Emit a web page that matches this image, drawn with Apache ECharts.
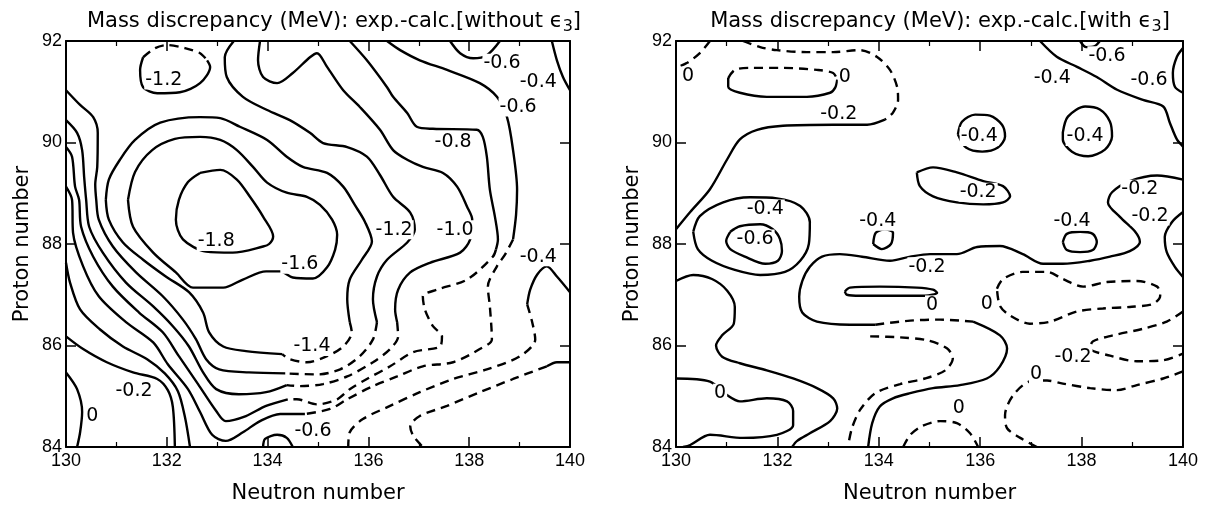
<!DOCTYPE html>
<html><head><meta charset="utf-8">
<script src="https://cdn.jsdelivr.net/npm/echarts@6.0.0/dist/echarts.min.js"></script>
<style>html,body{margin:0;padding:0;background:#fff}#c{width:1209px;height:509px}</style>
</head><body><div id="c"></div>
<script>
// ---------- axis ranges / ticks ----------
const xRange = [130, 140];
const yRange = [84, 92];
const tickStep = 2;

// ---------- LEFT PANEL (without eps3): contour paths [N, Z] ----------
const L_m18 = [[132.66,89.40],[133.06,89.46],[133.39,89.27],[133.65,88.93],[133.91,88.54],[134.11,88.15],[134.03,88.00],[133.91,87.95],[133.31,87.83],[132.78,87.85],[132.32,88.09],[132.18,88.48],[132.24,88.87],[132.42,89.22],[132.66,89.40]];
const L_m16 = [[131.23,88.87],[131.37,89.42],[131.71,89.85],[132.16,90.07],[132.66,90.11],[133.06,90.05],[133.39,89.85],[133.71,89.52],[133.99,89.21],[134.38,89.01],[134.78,88.93],[135.04,88.77],[135.28,88.48],[135.38,88.18],[135.34,87.89],[135.18,87.54],[134.90,87.32],[134.50,87.34],[134.25,87.46],[133.97,87.46],[133.51,87.30],[133.12,87.14],[132.52,87.14],[132.18,87.44],[131.73,87.83],[131.33,88.34],[131.23,88.87]];
const L_m14_s1 = [[130.79,88.87],[130.85,89.27],[131.07,89.66],[131.37,90.05],[131.87,90.39],[132.66,90.50],[133.06,90.48],[133.45,90.31],[133.99,90.05],[134.38,89.72],[134.70,89.52],[135.18,89.40],[135.50,89.13],[135.73,88.77],[135.93,88.44],[136.07,88.05],[135.87,87.69],[135.63,87.30],[135.58,86.91],[135.63,86.46]];
const L_m14_d = [[135.63,86.46],[135.67,86.26],[135.50,85.98],[135.18,85.79],[134.78,85.67],[134.44,85.73],[134.29,85.83]];
const L_m14_s2 = [[134.29,85.83],[133.57,85.89],[133.12,85.98],[132.84,86.26],[132.72,86.65],[132.44,87.05],[131.98,87.36],[131.53,87.69],[131.13,88.03],[130.85,88.48],[130.79,88.87]];
const L_m12_s1 = [[133.33,92.0],[133.15,91.68],[133.19,91.29],[133.51,90.90],[133.99,90.64],[134.44,90.44],[134.84,90.19],[135.10,89.99],[135.58,89.91],[135.97,89.72],[136.23,89.36],[136.49,88.93],[136.83,88.62],[136.92,88.28],[136.77,88.03],[136.37,87.69],[136.17,87.36],[136.09,86.91],[136.17,86.46]];
const L_m12_d = [[136.17,86.46],[136.09,86.12],[135.83,85.79],[135.44,85.53],[134.98,85.43],[134.35,85.45]];
const L_m12_s2 = [[134.35,85.45],[133.63,85.47],[133.04,85.53],[132.78,85.73],[132.58,86.12],[132.32,86.51],[131.92,86.97],[131.39,87.44],[130.93,87.95],[130.65,88.48],[130.60,88.87],[130.58,89.17],[130.62,89.52],[130.63,90.19],[130.54,90.50],[130.28,90.74],[130.0,91.03]];
const L_m10_s1 = [[133.85,92.0],[133.81,91.62],[133.91,91.29],[134.19,91.17],[134.50,91.37],[134.84,91.68],[134.98,91.76],[135.18,91.49],[135.50,91.03],[135.83,90.70],[136.23,90.25],[136.49,89.85],[136.77,89.66],[137.08,89.52],[137.48,89.40],[137.76,89.13],[137.96,88.73],[138.06,88.48],[138.02,88.09],[137.82,87.83],[137.22,87.63],[136.83,87.44],[136.59,87.10],[136.53,86.71],[136.57,86.46]];
const L_m10_d = [[136.57,86.46],[136.59,86.18],[136.43,85.93],[136.09,85.67],[135.58,85.39],[135.10,85.24],[134.64,85.20],[134.38,85.22]];
const L_m10_s2 = [[134.38,85.22],[133.97,85.08],[133.43,85.04],[132.98,85.14],[132.72,85.47],[132.44,85.98],[132.12,86.38],[131.73,86.77],[131.19,87.24],[130.73,87.83],[130.46,88.34],[130.40,88.87],[130.36,89.32],[130.32,89.85],[130.22,90.19],[130.0,90.44]];
const L_m08_s1 = [[135.63,92.0],[135.97,91.62],[136.37,91.09],[136.49,90.90],[136.77,90.58],[136.96,90.31],[137.28,90.27],[138.15,90.25],[138.27,90.11],[138.35,89.72],[138.41,89.07],[138.51,88.54],[138.57,88.09],[138.53,87.89]];
const L_m08_d = [[138.53,87.89],[138.47,87.75],[137.96,87.30],[137.36,87.10],[137.08,86.97],[137.12,86.71],[137.28,86.38],[137.46,86.18],[137.42,85.98],[136.89,85.87],[136.43,85.59],[135.97,85.34],[135.63,85.14],[135.38,84.94],[134.98,84.84],[134.58,84.94],[134.40,84.94]];
const L_m08_s2 = [[134.40,84.94],[133.97,84.81],[133.57,84.61],[133.17,84.51],[132.98,84.71],[132.62,85.24],[132.24,85.79],[131.92,86.26],[131.45,86.65],[130.93,87.16],[130.54,87.75],[130.30,88.34],[130.26,88.87],[130.18,89.13],[130.12,89.72],[130.0,89.91]];
const L_m06_s1 = [[136.37,92.0],[136.63,91.82],[137.02,91.62],[137.56,91.43],[138.21,91.17],[138.55,90.90],[138.75,90.50],[138.87,89.85],[138.95,89.07],[138.93,88.58],[138.87,88.09]];
const L_m06_d = [[138.87,88.09],[138.71,87.79],[138.55,87.56],[138.37,87.16],[138.41,86.77],[138.45,86.12],[138.21,85.93],[137.68,85.67],[137.08,85.59],[136.57,85.39],[136.09,85.20],[135.58,84.94],[135.24,84.75],[134.74,84.65]];
const L_m06_s2 = [[134.74,84.65],[134.25,84.65],[133.85,84.51],[133.51,84.29],[133.17,84.12],[132.90,84.24],[132.66,84.69],[132.42,85.14],[132.02,85.63],[131.73,86.06],[131.19,86.46],[130.65,86.97],[130.34,87.56],[130.14,88.22],[130.12,88.87],[130.0,89.13]];
const L_m04_left = [[130.0,87.63],[130.08,87.24],[130.28,86.71],[130.67,86.32],[131.13,85.98],[131.61,85.73],[131.96,85.45],[132.22,85.10],[132.36,84.59],[132.46,84.0]];
const L_m02_left = [[130.0,86.18],[130.34,85.93],[130.81,85.67],[131.33,85.47],[131.81,85.34],[132.02,85.12],[132.12,84.79],[132.16,84.0]];
const L_0_left = [[130.0,85.47],[130.22,85.14],[130.32,84.69],[130.28,84.29],[130.22,84.0]];
const L_bump = [[133.91,84.0],[133.95,84.16],[134.19,84.24],[134.38,84.18],[134.50,84.0]];
const L_m04_right_s = [[140.0,87.05],[139.74,87.36],[139.54,87.56],[139.35,87.40],[139.21,87.10],[139.15,86.81]];
const L_m04_right_d = [[139.15,86.81],[139.25,86.46],[139.31,86.12],[139.01,85.79],[138.35,85.53],[137.68,85.34],[137.02,85.08],[136.43,84.81],[135.89,84.55],[135.63,84.29],[135.60,84.0]];
const L_m02_right_s = [[140.0,85.67],[139.74,85.67],[139.54,85.59]];
const L_m02_right_d = [[139.54,85.59],[138.87,85.34],[138.21,85.08],[137.56,84.81],[137.02,84.61],[136.83,84.41],[136.89,84.22],[137.08,84.0]];
const L_topU = [[137.62,92.0],[137.82,91.76],[138.08,91.66],[138.35,91.72],[138.61,92.0]];
const L_topRight = [[139.64,92.0],[139.74,91.62],[139.86,91.29],[140.0,91.03]];
const L_m12loop_d = [[131.53,91.68],[131.77,91.86],[132.00,91.92],[132.36,91.86],[132.66,91.76],[132.80,91.62]];
const L_m12loop_s = [[132.80,91.62],[132.86,91.49],[132.66,91.17],[132.26,90.99],[131.81,90.97],[131.53,91.09],[131.47,91.43],[131.53,91.68]];

const leftLabels = [[131.94,91.23,'-1.2'],[138.65,91.56,'-0.6'],[139.37,91.19,'-0.4'],[138.97,90.70,'-0.6'],[137.68,90.01,'-0.8'],[136.51,88.28,'-1.2'],[137.72,88.28,'-1.0'],[132.98,88.05,'-1.8'],[134.64,87.60,'-1.6'],[139.37,87.75,'-0.4'],[134.88,85.98,'-1.4'],[131.35,85.10,'-0.2'],[130.52,84.61,'0'],[134.90,84.31,'-0.6']];

// ---------- RIGHT PANEL (with eps3): contour paths [N, Z] ----------
const R_0_corner = [[130.67,92.0],[130.47,91.76],[130.22,91.57],[130.0,91.47]];
const R_m02_top_d = [[131.32,92.0],[131.66,91.88],[131.99,91.82],[132.58,91.78],[133.10,91.78],[133.63,91.82],[133.96,91.69],[134.22,91.43],[134.36,91.10],[134.38,90.84],[134.28,90.59],[134.12,90.45]];
const R_m02_top_s = [[134.12,90.45],[133.77,90.35],[133.10,90.35],[132.11,90.33],[131.60,90.25],[131.26,90.06],[131.01,89.67],[130.67,89.08],[130.28,88.63],[130.0,88.29]];
const R_0_loop_d = [[131.03,91.27],[131.16,91.43],[131.46,91.47],[132.11,91.47],[132.78,91.43],[133.10,91.37],[133.18,91.24]];
const R_0_loop_s = [[133.18,91.24],[133.14,91.08],[133.04,90.98],[132.58,90.90],[131.79,90.90],[131.26,90.98],[131.03,91.10],[131.03,91.27]];
const R_m04_top = [[137.18,92.0],[137.51,91.69],[137.91,91.49],[138.30,91.29],[138.70,91.04],[139.21,90.84],[139.61,90.71],[139.74,90.39],[139.88,90.06],[140.0,89.92]];
const R_m06_bump = [[137.97,92.0],[138.09,91.88],[138.26,91.90],[138.36,92.0]];
const R_m06_edge = [[140.0,91.86],[139.88,91.69],[139.80,91.37],[139.84,91.10],[140.0,90.98]];
const R_m04_loopA = [[135.56,90.16],[135.64,90.41],[135.90,90.55],[136.19,90.53],[136.43,90.35],[136.49,90.12],[136.35,89.90],[136.04,89.82],[135.72,89.90],[135.56,90.16]];
const R_m04_loopB = [[137.63,90.20],[137.73,90.51],[138.07,90.71],[138.36,90.65],[138.56,90.41],[138.60,90.12],[138.46,89.86],[138.13,89.73],[137.81,89.82],[137.63,90.06],[137.63,90.20]];
const R_m02_loop = [[134.75,89.41],[135.07,89.51],[135.54,89.41],[136.06,89.24],[136.45,89.14],[136.59,88.94],[136.45,88.82],[136.06,88.78],[135.54,88.82],[135.07,88.94],[134.81,89.14],[134.75,89.41]];
const R_m02_long_s1 = [[140.0,89.27],[139.49,89.35],[138.95,89.24],[138.60,89.02],[138.52,88.82],[138.76,88.53],[139.05,88.25],[139.15,88.04],[138.95,87.86],[138.56,87.75],[138.17,87.67],[137.63,87.61],[137.24,87.61],[136.84,87.80],[136.39,87.96],[135.94,87.94],[135.54,87.80],[135.01,87.80],[134.62,87.75],[134.22,87.67],[133.67,87.75],[133.23,87.80],[132.88,87.75],[132.64,87.55],[132.49,87.27],[132.43,86.96],[132.49,86.65],[132.78,86.47],[133.43,86.41],[133.93,86.41]];
const R_m02_long_d = [[133.93,86.41],[134.62,86.49],[135.21,86.51],[135.86,86.47]];
const R_m02_long_s2 = [[135.86,86.47],[136.39,86.20],[136.53,85.94],[136.39,85.59],[136.13,85.35],[135.60,85.22],[135.07,85.16],[134.62,85.06],[134.28,84.96],[134.02,84.80],[133.87,84.47],[133.79,84.0]];
const R_m02_edge = [[140.0,88.63],[139.78,88.43],[139.64,88.14],[139.68,87.84],[139.84,87.55],[140.0,87.35]];
const R_m04_L = [[130.34,88.24],[130.47,88.55],[130.93,88.82],[131.46,88.92],[131.99,88.90],[132.45,88.75],[132.64,88.43],[132.62,88.00],[132.45,87.67],[132.15,87.45],[131.66,87.39],[131.16,87.49],[130.71,87.67],[130.43,87.90],[130.34,88.24]];
const R_m06_loop = [[131.07,88.24],[131.26,88.35],[131.66,88.39],[131.91,88.29],[132.05,88.10],[132.09,87.86],[132.01,87.67],[131.76,87.61],[131.36,87.75],[131.07,87.90],[130.99,88.06],[131.07,88.24]];
const R_m04_small = [[133.89,88.00],[133.94,88.22],[134.12,88.29],[134.28,88.22],[134.24,88.00],[134.06,87.90],[133.89,88.00]];
const R_m04_K = [[137.63,88.04],[137.71,88.20],[137.97,88.24],[138.22,88.20],[138.30,88.04],[138.22,87.88],[137.97,87.84],[137.71,87.88],[137.63,88.04]];
const R_0_bar = [[133.33,87.06],[133.43,87.14],[134.02,87.16],[134.75,87.14],[135.07,87.10],[135.15,87.04],[134.91,86.98],[134.22,86.98],[133.63,86.98],[133.37,87.00],[133.33,87.06]];
const R_0_dloop = [[136.33,87.12],[136.45,87.31],[136.84,87.45],[137.32,87.45],[137.63,87.31],[138.03,87.16],[138.50,87.25],[139.09,87.27],[139.49,87.16],[139.55,86.98],[139.41,86.82],[138.95,86.76],[138.42,86.73],[137.91,86.67],[137.38,86.47],[136.98,86.43],[136.59,86.59],[136.39,86.78],[136.33,87.12]];
const R_0_inner_d = [[133.83,86.18],[134.42,86.16],[134.97,86.10],[135.35,85.94],[135.46,85.75],[135.31,85.51],[134.91,85.35],[134.42,85.24],[133.93,85.06],[133.63,84.73],[133.47,84.37],[133.39,84.0]];
const R_m02_v_d = [[140.0,86.67],[139.68,86.47],[139.21,86.33],[138.62,86.20],[138.22,86.08],[138.17,85.94],[138.56,85.80],[139.09,85.69],[139.61,85.71],[140.0,85.84]];
const R_0_br_d = [[140.0,85.49],[139.61,85.35],[139.09,85.22],[138.70,85.12],[138.17,85.16],[137.63,85.25],[137.32,85.31],[136.98,85.29],[136.65,85.02],[136.49,84.63],[136.53,84.37],[136.79,84.18],[137.12,84.0]];
const R_0_semi_d = [[134.48,84.0],[134.62,84.24],[134.85,84.41],[135.21,84.51],[135.54,84.47],[135.80,84.27],[135.96,84.0]];
const R_m02_P = [[130.0,87.27],[130.34,87.39],[130.71,87.31],[131.01,87.08],[131.16,86.76],[131.14,86.43],[130.91,86.20],[130.79,86.00],[130.91,85.78],[131.26,85.65],[131.79,85.51],[132.31,85.35],[132.78,85.16],[133.10,84.96],[133.18,84.76],[133.04,84.51],[132.64,84.27],[132.39,84.12],[132.29,84.0]];
const R_0_Q = [[130.0,85.35],[130.67,85.29],[131.01,85.02],[131.26,84.90],[131.79,84.96],[132.19,84.90],[132.31,84.71],[132.31,84.43],[131.99,84.24],[131.32,84.18],[130.67,84.24],[130.28,84.04],[130.14,84.0]];

const rightLabels = [[130.24,91.31,'0'],[133.33,91.29,'0'],[133.21,90.57,'-0.2'],[137.42,91.27,'-0.4'],[138.50,91.71,'-0.6'],[139.33,91.24,'-0.6'],[135.98,90.12,'-0.4'],[138.07,90.12,'-0.4'],[135.96,89.02,'-0.2'],[139.15,89.08,'-0.2'],[139.35,88.55,'-0.2'],[131.76,88.69,'-0.4'],[131.56,88.10,'-0.6'],[137.81,88.45,'-0.4'],[133.98,88.45,'-0.4'],[134.95,87.55,'-0.2'],[135.05,86.80,'0'],[136.13,86.82,'0'],[137.83,85.78,'-0.2'],[137.10,85.43,'0'],[135.58,84.76,'0'],[130.87,85.06,'0']];

// ---------- which paths are drawn solid / dashed ----------
const leftSolid = [L_m18, L_m16, L_m14_s1, L_m14_s2, L_m12_s1, L_m12_s2, L_m10_s1, L_m10_s2, L_m08_s1, L_m08_s2, L_m06_s1, L_m06_s2, L_m04_left, L_m02_left, L_0_left, L_bump, L_m04_right_s, L_m02_right_s, L_topU, L_topRight, L_m12loop_s];
const leftDashed = [L_m14_d, L_m12_d, L_m10_d, L_m08_d, L_m06_d, L_m04_right_d, L_m02_right_d, L_m12loop_d];
const rightSolid = [R_m02_top_s, R_0_loop_s, R_m04_top, R_m06_bump, R_m06_edge, R_m04_loopA, R_m04_loopB, R_m02_loop, R_m02_long_s1, R_m02_long_s2, R_m02_edge, R_m04_L, R_m06_loop, R_m04_small, R_m04_K, R_0_bar, R_m02_P, R_0_Q];
const rightDashed = [R_0_corner, R_m02_top_d, R_0_loop_d, R_m02_long_d, R_0_dloop, R_0_inner_d, R_m02_v_d, R_0_br_d, R_0_semi_d];

// ---------- build chart ----------
const TXT = 'DejaVu Sans';
const NUM = 'Liberation Sans';

function xAx(gi, pos, main) {
  return {
    type: 'value', gridIndex: gi, position: pos, min: xRange[0], max: xRange[1], interval: tickStep,
    axisLine: { show: true, onZero: false, lineStyle: { color: '#000', width: 2 } },
    axisTick: { show: true, inside: true, length: 10, lineStyle: { color: '#000', width: 1.5 } },
    minorTick: { show: true, splitNumber: 2, length: 5, lineStyle: { color: '#000', width: 1.2 } },
    splitLine: { show: false },
    axisLabel: { show: main, color: '#000', fontSize: 18, fontFamily: NUM, margin: 5 },
    name: main ? 'Neutron number' : '', nameLocation: 'middle', nameGap: 36,
    nameTextStyle: { color: '#000', fontSize: 21, fontFamily: TXT }
  };
}
function yAx(gi, pos, main) {
  return {
    type: 'value', gridIndex: gi, position: pos, min: yRange[0], max: yRange[1], interval: tickStep,
    axisLine: { show: true, onZero: false, lineStyle: { color: '#000', width: 2 } },
    axisTick: { show: true, inside: true, length: 10, lineStyle: { color: '#000', width: 1.5 } },
    minorTick: { show: false },
    splitLine: { show: false },
    axisLabel: { show: main, color: '#000', fontSize: 18, fontFamily: NUM, margin: 4 },
    name: main ? 'Proton number' : '', nameLocation: 'middle', nameGap: 33,
    nameTextStyle: { color: '#000', fontSize: 21, fontFamily: TXT }
  };
}
function lineSeries(xi, yi, data, dashed) {
  return {
    type: 'line', xAxisIndex: xi, yAxisIndex: yi, data: data,
    smooth: 0.3, showSymbol: false, symbol: 'none', silent: true, animation: false, clip: true, z: 2,
    lineStyle: { color: '#000', width: 2.4, type: dashed ? [9, 6] : 'solid', cap: 'butt' }
  };
}
function labelSeries(xi, yi, data) {
  return {
    type: 'scatter', xAxisIndex: xi, yAxisIndex: yi, data: data, symbolSize: 1, silent: true, animation: false, z: 5,
    itemStyle: { color: '#fff', opacity: 0 },
    label: { show: true, position: 'inside', formatter: p => p.value[2], color: '#000', opacity: 1,
             fontSize: 19, fontFamily: TXT, backgroundColor: '#fff', padding: [0, 1] }
  };
}

const series = [];
leftSolid.forEach(d => series.push(lineSeries(0, 0, d, false)));
leftDashed.forEach(d => series.push(lineSeries(0, 0, d, true)));
rightSolid.forEach(d => series.push(lineSeries(2, 2, d, false)));
rightDashed.forEach(d => series.push(lineSeries(2, 2, d, true)));
series.push(labelSeries(0, 0, leftLabels));
series.push(labelSeries(2, 2, rightLabels));

const titleRich = { s: { fontSize: 16, fontFamily: TXT, color: '#000', padding: [10, 0, 0, 0] }, e: { fontSize: 21, fontFamily: TXT, color: '#000' } };
const option = {
  backgroundColor: '#fff',
  animation: false,
  title: [
    { text: 'Mass discrepancy (MeV): exp.-calc.[without {e|ϵ}{s|3}]', left: 329, top: 4, textAlign: 'center',
      textStyle: { color: '#000', fontSize: 21, fontWeight: 'normal', fontFamily: TXT, rich: titleRich } },
    { text: 'Mass discrepancy (MeV): exp.-calc.[with {e|ϵ}{s|3}]', left: 935, top: 4, textAlign: 'center',
      textStyle: { color: '#000', fontSize: 21, fontWeight: 'normal', fontFamily: TXT, rich: titleRich } }
  ],
  grid: [
    { left: 66, top: 41, width: 504, height: 407, containLabel: false },
    { left: 676, top: 41, width: 507, height: 408, containLabel: false }
  ],
  xAxis: [xAx(0, 'bottom', true), xAx(0, 'top', false), xAx(1, 'bottom', true), xAx(1, 'top', false)],
  yAxis: [yAx(0, 'left', true), yAx(0, 'right', false), yAx(1, 'left', true), yAx(1, 'right', false)],
  series: series
};
const chart = echarts.init(document.getElementById('c'), null, { renderer: 'canvas' });
chart.setOption(option);
</script></body></html>
